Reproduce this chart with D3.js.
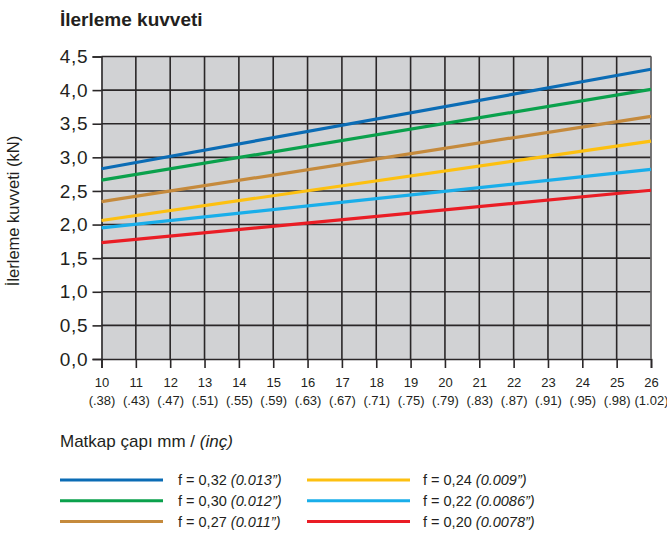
<!DOCTYPE html>
<html>
<head>
<meta charset="utf-8">
<script src="https://cdn.jsdelivr.net/npm/d3@7"></script>
<style>
  body { margin: 0; background: #fff; }
  svg { display: block; font-family: "Liberation Sans", Arial, sans-serif; }
</style>
</head>
<body>
<svg id="chart" width="667" height="541"></svg>
<script>
// Drill diameter (mm) and its inch equivalent
const diametersMm = [10, 11, 12, 13, 14, 15, 16, 17, 18, 19, 20, 21, 22, 23, 24, 25, 26];
const diametersInch = ["(.38)", "(.43)", "(.47)", "(.51)", "(.55)", "(.59)", "(.63)", "(.67)", "(.71)",
  "(.75)", "(.79)", "(.83)", "(.87)", "(.91)", "(.95)", "(.98)", "(1.02)"];
const yTicks = [0, 0.5, 1, 1.5, 2, 2.5, 3, 3.5, 4, 4.5];

// Feed force (kN) at the smallest and largest diameter, per feed rate
const seriesX = [10, 26];
const feed032 = [2.83, 4.31];
const feed030 = [2.66, 4.01];
const feed027 = [2.34, 3.61];
const feed024 = [2.06, 3.24];
const feed022 = [1.95, 2.82];
const feed020 = [1.73, 2.51];

const feedLabels = ["f = 0,32", "f = 0,30", "f = 0,27", "f = 0,24", "f = 0,22", "f = 0,20"];
const feedInch = ["(0.013\u201D)", "(0.012\u201D)", "(0.011\u201D)", "(0.009\u201D)", "(0.0086\u201D)", "(0.0078\u201D)"];
const feedColors = ["#0b6cb5", "#0aa14c", "#c58a3c", "#fdc010", "#19aeea", "#ea1d25"];

const series = [feed032, feed030, feed027, feed024, feed022, feed020].map((vals, i) => ({
  label: feedLabels[i], inch: feedInch[i], color: feedColors[i],
  points: vals.map((v, j) => ({ x: seriesX[j], y: v }))
}));

const svg = d3.select("#chart");
const plot = { left: 101.5, right: 651, top: 56.5, bottom: 359 };

const x = d3.scaleLinear().domain([10, 26]).range([plot.left, plot.right]);
const y = d3.scaleLinear().domain([0, 4.5]).range([plot.bottom, plot.top]);

// Title
svg.append("text").attr("x", 60).attr("y", 26)
  .attr("font-size", 19).attr("font-weight", "bold").attr("fill", "#231f20")
  .text("İlerleme kuvveti");

// Plot background
svg.append("rect").attr("x", plot.left).attr("y", plot.top)
  .attr("width", plot.right - plot.left).attr("height", plot.bottom - plot.top).attr("fill", "#d1d2d4");

const gridColor = "#2a2728";

// Grid lines
svg.append("g").selectAll("line").data(diametersMm.slice(1)).join("line")
  .attr("x1", d => x(d)).attr("x2", d => x(d)).attr("y1", plot.top).attr("y2", plot.bottom)
  .attr("stroke", gridColor).attr("stroke-width", 1.6);
svg.append("g").selectAll("line").data(yTicks.slice(1)).join("line")
  .attr("x1", plot.left).attr("x2", plot.right).attr("y1", d => y(d)).attr("y2", d => y(d))
  .attr("stroke", gridColor).attr("stroke-width", 1.6);

// Y axis
const yAxis = svg.append("g").attr("transform", `translate(${plot.left},0)`)
  .call(d3.axisLeft(y).tickValues(yTicks).tickSize(9).tickPadding(4)
    .tickFormat(d => d3.format(".1f")(d).replace(".", ",")));
yAxis.select(".domain").attr("stroke", gridColor).attr("stroke-width", 1.6);
yAxis.selectAll(".tick line").attr("stroke", gridColor).attr("stroke-width", 1.6);
yAxis.selectAll(".tick text").attr("font-size", 19).attr("fill", "#231f20")
  .attr("letter-spacing", 0.8)
  .attr("font-family", "'Liberation Sans', Arial, sans-serif");

// X axis
const xAxis = svg.append("g").attr("transform", `translate(0,${plot.bottom})`)
  .call(d3.axisBottom(x).tickValues(diametersMm).tickSize(9).tickFormat(""));
xAxis.select(".domain").attr("stroke", gridColor).attr("stroke-width", 1.6);
xAxis.selectAll(".tick line").attr("stroke", gridColor).attr("stroke-width", 1.6);
const xl = xAxis.selectAll(".tick").append("text")
  .attr("fill", "#231f20").attr("font-size", 13).attr("text-anchor", "middle")
  .attr("font-family", "'Liberation Sans', Arial, sans-serif");
xl.append("tspan").attr("x", 0).attr("y", 28).text((d, i) => diametersMm[i]);
xl.append("tspan").attr("x", 0).attr("y", 46).text((d, i) => diametersInch[i]);

// Right border
svg.append("line").attr("x1", plot.right).attr("x2", plot.right).attr("y1", plot.top).attr("y2", plot.bottom)
  .attr("stroke", "#9a9a9a").attr("stroke-width", 1);

// Series lines
const line = d3.line().x(d => x(d.x)).y(d => y(d.y));
svg.append("g").selectAll("path").data(series).join("path")
  .attr("d", d => line(d.points)).attr("fill", "none")
  .attr("stroke", d => d.color).attr("stroke-width", 3.2);

// Axis titles
svg.append("text").attr("transform", "translate(19,211) rotate(-90)")
  .attr("text-anchor", "middle").attr("font-size", 16.5).attr("fill", "#231f20")
  .text("İlerleme kuvveti (kN)");

const xt = svg.append("text").attr("x", 60).attr("y", 447)
  .attr("font-size", 17).attr("fill", "#231f20");
xt.append("tspan").text("Matkap çapı mm / ");
xt.append("tspan").attr("font-style", "italic").text("(inç)");

// Legend
const legend = svg.append("g").selectAll("g").data(series).join("g")
  .attr("transform", (d, i) => `translate(${i < 3 ? 60 : 307},${480 + (i % 3) * 20.8})`);
legend.append("line").attr("x1", 0).attr("x2", 103).attr("y1", 0).attr("y2", 0)
  .attr("stroke", d => d.color).attr("stroke-width", 3);
const lt = legend.append("text").attr("x", (d, i) => i < 3 ? 118 : 116).attr("y", 5)
  .attr("font-size", 14.5).attr("fill", "#231f20");
lt.append("tspan").text(d => d.label + " ");
lt.append("tspan").attr("font-style", "italic").text(d => d.inch);
</script>
</body>
</html>
